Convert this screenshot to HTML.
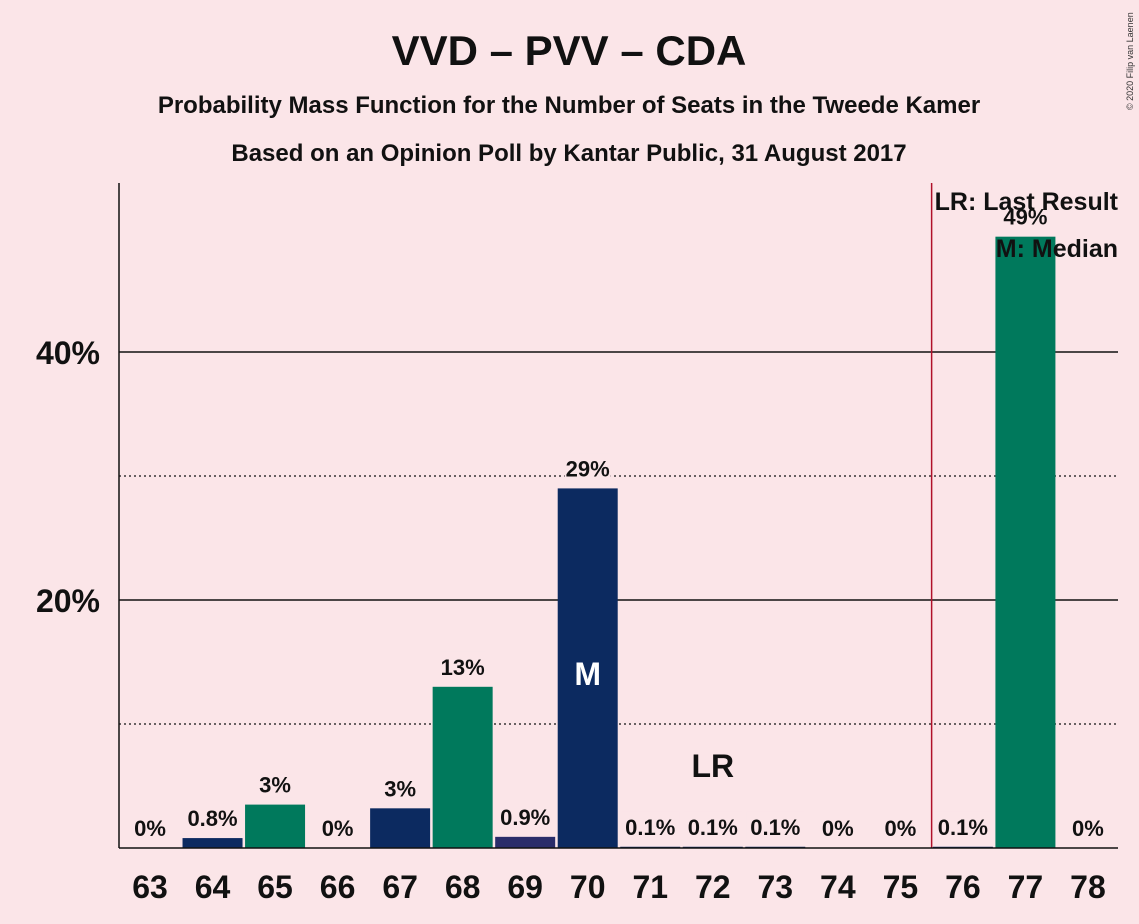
<!DOCTYPE html>
<html><head><meta charset="utf-8">
<style>
body{margin:0;background:#fbe5e8;}
svg{display:block;font-family:"Liberation Sans",sans-serif;}
</style></head>
<body>
<svg id="chart" width="1139" height="924" viewBox="0 0 1139 924">
<rect width="1139" height="924" fill="#fbe5e8"/>
<text x="569" y="65" text-anchor="middle" font-size="42" font-weight="bold" fill="#111">VVD – PVV – CDA</text>
<text x="569" y="113" text-anchor="middle" font-size="24" font-weight="bold" fill="#111">Probability Mass Function for the Number of Seats in the Tweede Kamer</text>
<text x="569" y="161" text-anchor="middle" font-size="24" font-weight="bold" fill="#111">Based on an Opinion Poll by Kantar Public, 31 August 2017</text>
<text x="1133" y="110" font-size="9" fill="#333" transform="rotate(-90 1133 110)">© 2020 Filip van Laenen</text>
<g id="grid"></g>
<g id="bars"></g>
<g id="labels"></g>
<line x1="119" y1="183" x2="119" y2="848" stroke="#111" stroke-width="1.5"/>
<line x1="119" y1="848" x2="1118" y2="848" stroke="#111" stroke-width="1.5"/>
<text x="1118" y="210" text-anchor="end" font-size="25" font-weight="bold" fill="#111">LR: Last Result</text>
<text x="1118" y="257" text-anchor="end" font-size="25" font-weight="bold" fill="#111">M: Median</text>
</svg>
<script>
const seats = [63,64,65,66,67,68,69,70,71,72,73,74,75,76,77,78];
const probs = [0,0.8,3.5,0,3.2,13,0.9,29,0.1,0.1,0.1,0,0,0.1,49.3,0];
const valueLabels = ["0%","0.8%","3%","0%","3%","13%","0.9%","29%","0.1%","0.1%","0.1%","0%","0%","0.1%","49%","0%"];
const partyColor = ["n","n","g","n","n","g","p","n","n","n","n","n","n","n","g","n"];
const yTicks = [10,20,30,40];
const lastResult = 75.5;
const medianSeat = 70;
const lrLabelSeat = 72;

const NS="http://www.w3.org/2000/svg";
const y0=848, pxPerPct=12.4;
const xs = s => 150 + (s-63)*62.53;
const ys = v => y0 - v*pxPerPct;
const colors={n:"#0c2a60",g:"#00795c",p:"#2a2d6a"};
function mk(tag,attrs,parent){const e=document.createElementNS(NS,tag);for(const k in attrs)e.setAttribute(k,attrs[k]);parent.appendChild(e);return e;}
const grid=document.getElementById('grid'), bars=document.getElementById('bars'), labels=document.getElementById('labels');
yTicks.forEach(t=>{
  const solid = t%20===0;
  const l=mk('line',{x1:119,x2:1118,y1:ys(t),y2:ys(t),stroke:"#111","stroke-width":solid?1.5:1.3,"stroke-dasharray":solid?"none":"2,3"},grid);
  
  
  if(solid){
    const tx=mk('text',{x:100,y:ys(t)+12,"text-anchor":"end","font-size":32,"font-weight":"bold",fill:"#111"},grid);
    tx.textContent=t+"%";
    
    
  }
});
seats.forEach((s,i)=>{
  const v=probs[i], cx=xs(s), top=ys(v);
  if(v>0){
    const r=mk('rect',{x:cx-30,y:top,width:60,height:y0-top,fill:colors[partyColor[i]]},bars);
    
    
  }
  const bw=valueLabels[i].length*12+10;
  const bg=mk('rect',{x:cx-bw/2,y:top-35,width:bw,height:28,fill:"#fbe5e8"},labels);
  
  
  const t=mk('text',{x:cx,y:top-12,"text-anchor":"middle","font-size":22,"font-weight":"bold",fill:"#111"},labels);
  t.textContent=valueLabels[i];
  
  
  const xt=mk('text',{x:cx,y:898,"text-anchor":"middle","font-size":32,"font-weight":"bold",fill:"#111"},labels);
  xt.textContent=s;
  
  
});
const lr=mk('line',{x1:xs(lastResult),x2:xs(lastResult),y1:183,y2:848,stroke:"#b0102a","stroke-width":1.5},labels);


const lrt=mk('text',{x:xs(lrLabelSeat),y:777,"text-anchor":"middle","font-size":32,"font-weight":"bold",fill:"#111"},labels);
lrt.textContent="LR";


const mi=seats.indexOf(medianSeat);
const mt=mk('text',{x:xs(medianSeat),y:685,"text-anchor":"middle","font-size":32,"font-weight":"bold",fill:"#fff"},labels);
mt.textContent="M";


</script>
</body></html>
